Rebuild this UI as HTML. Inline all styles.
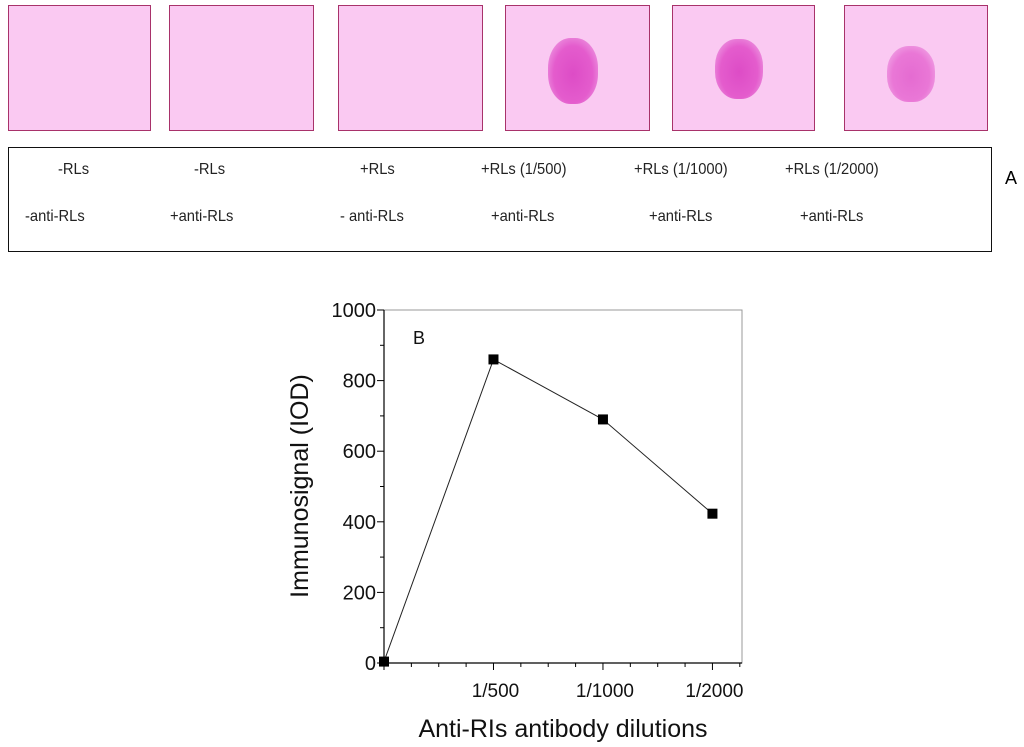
<!DOCTYPE html>
<html><head><meta charset="utf-8"><style>
body{margin:0;width:1024px;height:747px;background:#fff;position:relative;overflow:hidden;font-family:"Liberation Sans",sans-serif}
.m{position:absolute;top:5px;height:126px;border:1.5px solid #a8326a;background:#fac9f2;box-sizing:border-box}
.spot{position:absolute;border-radius:45%;background:radial-gradient(ellipse at 50% 55%,#dd4cc6 0%,#e45ccd 55%,#ec8ede 80%,rgba(249,198,242,0) 100%)}
.lbl{position:absolute;font-size:16px;color:#222;white-space:nowrap;transform:scaleX(.92);transform-origin:left}
</style></head><body>
<div class="m" style="left:8px;width:143px"></div>
<div class="m" style="left:169px;width:145px"></div>
<div class="m" style="left:338px;width:145px"></div>
<div class="m" style="left:505px;width:145px"><div class="spot" style="left:42px;top:32px;width:50px;height:66px"></div></div>
<div class="m" style="left:672px;width:143px"><div class="spot" style="left:42px;top:33px;width:48px;height:60px"></div></div>
<div class="m" style="left:844px;width:144px"><div class="spot" style="left:42px;top:40px;width:48px;height:56px;opacity:.75"></div></div>
<div style="position:absolute;left:8px;top:147px;width:984px;height:105px;border:1.5px solid #111;box-sizing:border-box"></div>
<div class="lbl" style="left:58px;top:161px">-RLs</div>
<div class="lbl" style="left:194px;top:161px">-RLs</div>
<div class="lbl" style="left:360px;top:161px">+RLs</div>
<div class="lbl" style="left:481px;top:161px">+RLs (1/500)</div>
<div class="lbl" style="left:634px;top:161px">+RLs (1/1000)</div>
<div class="lbl" style="left:785px;top:161px">+RLs (1/2000)</div>
<div class="lbl" style="left:25px;top:208px">-anti-RLs</div>
<div class="lbl" style="left:170px;top:208px">+anti-RLs</div>
<div class="lbl" style="left:340px;top:208px">- anti-RLs</div>
<div class="lbl" style="left:491px;top:208px">+anti-RLs</div>
<div class="lbl" style="left:649px;top:208px">+anti-RLs</div>
<div class="lbl" style="left:800px;top:208px">+anti-RLs</div>
<div style="position:absolute;left:1005px;top:168px;font-size:18px">A</div>
<svg id="chart" width="1024" height="747" style="position:absolute;left:0;top:0"></svg>
<script>
const categories=["","1/500","1/1000","1/2000"];
const values=[4,860,690,423];
const yTicks=[0,200,400,600,800,1000];
const NS="http://www.w3.org/2000/svg";
const svg=document.getElementById('chart');
const X0=384,X1=742,Y0=663,Y1=310,XMAX=3.27;
const xs=i=>X0+i/XMAX*(X1-X0);
const ys=v=>Y0-v/1000*(Y0-Y1);
function mk(t,a,txt){const e=document.createElementNS(NS,t);for(const k in a)e.setAttribute(k,a[k]);if(txt!=null)e.textContent=txt;svg.appendChild(e);return e;}
let fr=mk('rect',{x:X0,y:Y1,width:X1-X0,height:Y0-Y1,fill:'none',stroke:'#999','stroke-width':1});


let ay=mk('line',{x1:X0,y1:Y1,x2:X0,y2:Y0,stroke:'#000','stroke-width':1.2});


let ax=mk('line',{x1:X0,y1:Y0,x2:X1,y2:Y0,stroke:'#000','stroke-width':1.2});


for(let v=0;v<=1000;v+=100){const major=v%200===0;
 let t=mk('line',{x1:X0,y1:ys(v),x2:X0-(major?7:4),y2:ys(v),stroke:'#000'});
 
 }
yTicks.forEach(v=>{let t=mk('text',{x:X0-8,y:ys(v)+7,'text-anchor':'end','font-size':20,fill:'#111'},v);
 
 });
for(let k=0;k*0.25<=XMAX+0.001;k++){const major=k%4===0;
 let t=mk('line',{x1:xs(k*0.25),y1:Y0,x2:xs(k*0.25),y2:Y0+(major?7:4),stroke:'#000'});
 
 }
categories.forEach((c,i)=>{if(!c)return;let t=mk('text',{x:xs(i)+2,y:Y0+34,'text-anchor':'middle','font-size':19,fill:'#111'},c);
 
 });
let pl=mk('polyline',{points:values.map((v,i)=>xs(i)+','+ys(v)).join(' '),fill:'none',stroke:'#222','stroke-width':1});


values.forEach((v,i)=>{let r=mk('rect',{x:xs(i)-5,y:ys(v)-5,width:10,height:10,fill:'#000'});
 
 });
let b=mk('text',{x:413,y:344,'font-size':18,fill:'#111'},'B');


let xt=mk('text',{x:563,y:737,'text-anchor':'middle','font-size':25,fill:'#111'},'Anti-RIs antibody dilutions');


let yt=mk('text',{x:0,y:0,'text-anchor':'middle','font-size':25,fill:'#111',transform:'translate(308,486) rotate(-90)'},'Immunosignal (IOD)');


</script>
</body></html>
